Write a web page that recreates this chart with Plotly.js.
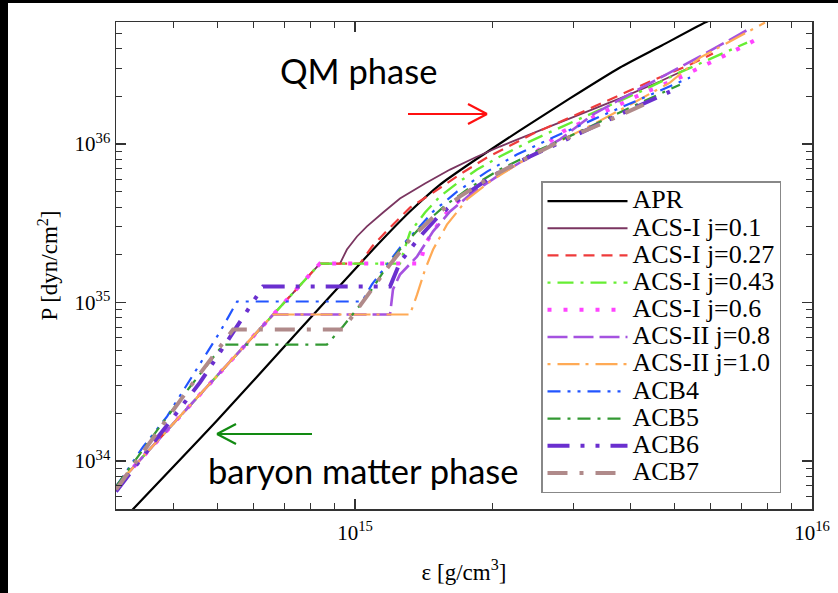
<!DOCTYPE html>
<html><head><meta charset="utf-8">
<script src="https://cdn.plot.ly/plotly-3.0.1.min.js"></script>
<style>html,body{margin:0;padding:0;background:#fff;}#plot{width:838px;height:593px;}</style>
</head><body><div id="plot"></div>
<script>
// ---- data (energy density eps [g/cm^3], pressure P [dyn/cm^2]) ----
const seriesNames = ["APR","ACS-I j=0.1","ACS-I j=0.27","ACS-I j=0.43","ACS-I j=0.6","ACS-II j=0.8","ACS-II j=1.0","ACB4","ACB5","ACB6","ACB7"];

const aprEps = [3.14e14,4.99e14,7.58e14,1.095e15,1.319e15,1.535e15,1.811e15,2.296e15,2.953e15,3.802e15,4.645e15,5.83e15,6.45e15];
const aprP   = [4.40e33,1.80e34,6.77e34,2.16e35,3.75e35,5.55e35,7.76e35,1.22e36,1.94e36,3.04e36,4.12e36,5.84e36,6.65e36];

// shared hadronic branch of ACS models
const acsBaseEps = [2.94e14,4.58e14,6.62e14,8.38e14];
const acsBaseP   = [6.51e33,2.63e34,8.40e34,1.76e35];

const acs1Eps = [9.27e14,9.60e14,1.010e15,1.062e15,1.152e15,1.254e15,1.423e15,1.614e15,1.832e15,2.075e15,2.540e15,3.105e15,3.802e15,4.645e15,5.41e15];
const acs1P   = [1.76e35,2.16e35,2.61e35,3.02e35,3.70e35,4.53e35,5.63e35,6.90e35,8.22e35,9.64e35,1.22e36,1.54e36,1.94e36,2.48e36,3.04e36];

const acs27Eps = [1.025e15,1.057e15,1.089e15,1.181e15,1.319e15,1.482e15,1.722e15,1.945e15,2.218e15,2.449e15,2.953e15,3.614e15,4.42e15,5.41e15,6.07e15];
const acs27P   = [1.76e35,2.01e35,2.25e35,2.89e35,3.97e35,4.94e35,6.61e35,8.22e35,1.007e36,1.16e36,1.47e36,1.91e36,2.48e36,3.17e36,3.72e36];

const acs43Eps = [1.254e15,1.286e15,1.319e15,1.423e15,1.535e15,1.680e15,1.849e15,2.075e15,2.415e15,2.810e15,3.437e15,4.21e15,5.14e15,6.13e15,7.21e15];
const acs43P   = [1.76e35,2.22e35,2.77e35,3.70e35,4.67e35,5.71e35,6.90e35,8.34e35,1.04e36,1.27e36,1.65e36,2.14e36,2.83e36,3.57e36,4.37e36];

const acs60Eps = [1.388e15,1.423e15,1.482e15,1.574e15,1.698e15,1.879e15,2.128e15,2.415e15,2.851e15,3.437e15,4.21e15,5.14e15,6.07e15,7.06e15,7.69e15];
const acs60P   = [1.76e35,2.32e35,2.81e35,3.59e35,4.47e35,5.55e35,6.90e35,8.34e35,1.20e36,1.54e36,2.05e36,2.63e36,3.32e36,4.12e36,4.70e36];

const acs80Eps = [1.193e15,1.211e15,1.254e15,1.367e15,1.482e15,1.614e15,1.786e15,2.075e15,2.415e15,2.810e15,3.319e15,3.802e15,4.487e15,5.69e15,7.13e15,7.31e15];
const acs80P   = [8.40e34,1.21e35,1.50e35,1.95e35,2.81e35,3.75e35,4.80e35,6.42e35,8.34e35,1.07e36,1.54e36,1.91e36,2.48e36,3.57e36,5.13e36,5.35e36];

const acs100Eps = [1.319e15,1.367e15,1.423e15,1.482e15,1.589e15,1.758e15,1.974e15,2.296e15,2.710e15,3.319e15,3.999e15,4.888e15,5.69e15,6.95e15,7.89e15];
const acs100P   = [8.40e34,1.12e35,1.61e35,2.16e35,3.10e35,4.47e35,5.80e35,7.64e35,9.93e35,1.33e36,1.77e36,2.44e36,3.51e36,4.77e36,5.84e36];

const acb4Eps = [3.00e14,3.44e14,3.88e14,4.58e14,5.07e14,5.52e14,1.036e15,1.089e15,1.152e15,1.254e15,1.367e15,1.482e15,1.672e15,1.945e15,2.261e15,2.710e15,3.437e15,4.42e15,5.41e15];
const acb4P   = [6.90e33,1.23e34,1.91e34,4.06e34,6.56e34,1.015e35,1.015e35,1.30e35,1.61e35,2.22e35,2.89e35,3.75e35,5.01e35,6.70e35,8.59e35,1.10e36,1.49e36,2.05e36,2.63e36];

const acb5Eps = [3.00e14,3.74e14,4.36e14,5.15e14,8.68e14,9.41e14,1.062e15,1.152e15,1.254e15,1.388e15,1.574e15,1.786e15,2.075e15,2.540e15,3.105e15,3.999e15,5.14e15];
const acb5P   = [6.90e33,1.65e34,2.95e34,5.43e34,5.43e34,7.06e34,1.09e35,1.55e35,2.16e35,2.97e35,4.09e35,5.32e35,6.90e35,9.23e35,1.20e36,1.70e36,2.37e36];

const acb6Eps = [3.00e14,4.58e14,5.41e14,6.29e14,1.193e15,1.254e15,1.388e15,1.535e15,1.741e15,2.024e15,2.415e15,2.953e15,3.802e15,4.888e15];
const acb6P   = [6.42e33,3.13e34,6.47e34,1.26e35,1.26e35,1.79e35,2.61e35,3.59e35,4.80e35,6.42e35,8.34e35,1.10e36,1.54e36,2.14e36];

const acb7Eps = [3.00e14,4.36e14,5.41e14,9.41e14,9.75e14,1.062e15,1.193e15,1.319e15,1.496e15,1.698e15,1.974e15,2.296e15,2.810e15,3.437e15,4.42e15];
const acb7P   = [6.61e33,2.95e34,6.76e34,6.76e34,7.81e34,1.09e35,1.74e35,2.50e35,3.54e35,4.67e35,6.15e35,7.76e35,1.04e36,1.33e36,1.85e36];

const xTickVals = [1e15,1e16];
const xTickText = ["10<sup>15</sup>","10<sup>16</sup>"];
const yTickVals = [1e34,1e35,1e36];
const yTickText = ["10<sup>34</sup>","10<sup>35</sup>","10<sup>36</sup>"];
const xMinor = [3e14,4e14,5e14,6e14,7e14,8e14,9e14,2e15,3e15,4e15,5e15,6e15,7e15,8e15,9e15];
const yMinor = [5e33,6e33,7e33,8e33,9e33,2e34,3e34,4e34,5e34,6e34,7e34,8e34,9e34,2e35,3e35,4e35,5e35,6e35,7e35,8e35,9e35,2e36,3e36,4e36,5e36];

// ---- build traces ----
function join(a,b){return a.concat(b);}
const styles = [
  {color:"#000000", width:2.2, dash:"solid"},
  {color:"#7a3560", width:1.8, dash:"solid"},
  {color:"#ee3b3b", width:2.2, dash:"11px,7px"},
  {color:"#66ee33", width:2.4, dash:"3px,7px,16px,7px"},
  {color:"#ff44ff", width:4, dash:"4px,12px"},
  {color:"#a552e0", width:2.6, dash:"20px,6px"},
  {color:"#ffaa55", width:2.2, dash:"3px,7px,22px,6px"},
  {color:"#2255ff", width:2.2, dash:"13px,7px,3px,7px,3px,7px"},
  {color:"#339933", width:2.2, dash:"13px,7px,3px,7px"},
  {color:"#6a2fcf", width:4, dash:"22px,11px,4px,11px,4px,11px"},
  {color:"#b08a8a", width:4, dash:"20px,12px,4px,12px"}
];
const xs = [aprEps, join(acsBaseEps,acs1Eps), join(acsBaseEps,acs27Eps), join(acsBaseEps,acs43Eps), join(acsBaseEps,acs60Eps),
            join(acsBaseEps.slice(0,3),acs80Eps), join(acsBaseEps.slice(0,3),acs100Eps), acb4Eps, acb5Eps, acb6Eps, acb7Eps];
const ys = [aprP, join(acsBaseP,acs1P), join(acsBaseP,acs27P), join(acsBaseP,acs43P), join(acsBaseP,acs60P),
            join(acsBaseP.slice(0,3),acs80P), join(acsBaseP.slice(0,3),acs100P), acb4P, acb5P, acb6P, acb7P];

const traces = seriesNames.map((n,i)=>({
  type:"scatter", mode:"lines", name:'<span style="font-size:26px">'+n+'</span>', x:xs[i], y:ys[i],
  line:{color:styles[i].color, width:styles[i].width, dash:styles[i].dash,
        shape:(i===0?"spline":"linear"), smoothing:0.5}
}));

const L=116,R=812,T=22,B=509;
function px(x){return (x-L)/(R-L);}
function py(y){return (B-y)/(B-T);}

const shapes = [
  {type:"line", xref:"paper", yref:"paper", x0:px(408), y0:py(114), x1:px(487), y1:py(114), line:{color:"#ff1010", width:2.2}},
  {type:"line", xref:"paper", yref:"paper", x0:px(468), y0:py(104), x1:px(487), y1:py(114), line:{color:"#ff1010", width:2.2}},
  {type:"line", xref:"paper", yref:"paper", x0:px(468), y0:py(124), x1:px(487), y1:py(114), line:{color:"#ff1010", width:2.2}},
  {type:"line", xref:"paper", yref:"paper", x0:px(217), y0:py(434), x1:px(312), y1:py(434), line:{color:"#128a12", width:2.2}},
  {type:"line", xref:"paper", yref:"paper", x0:px(236), y0:py(424), x1:px(217), y1:py(434), line:{color:"#128a12", width:2.2}},
  {type:"line", xref:"paper", yref:"paper", x0:px(236), y0:py(444), x1:px(217), y1:py(434), line:{color:"#128a12", width:2.2}},
  {type:"rect", xref:"paper", yref:"paper", x0:px(0), x1:px(8), y0:py(593), y1:py(0), fillcolor:"#000", line:{width:0}},
  {type:"rect", xref:"paper", yref:"paper", x0:px(0), x1:px(838), y0:py(3), y1:py(0), fillcolor:"#000", line:{width:0}}
];

const sans = "Lato, 'Open Sans', sans-serif";
const annotations = [
  {xref:"paper", yref:"paper", x:px(358), y:py(70), text:"QM phase", showarrow:false, xanchor:"center", yanchor:"middle",
   font:{family:sans, size:34.5, color:"#000"}},
  {xref:"paper", yref:"paper", x:px(363), y:py(470), text:"baryon matter phase", showarrow:false, xanchor:"center", yanchor:"middle",
   font:{family:sans, size:34.5, color:"#000"}}
];

const serif = "'Liberation Serif', 'Times New Roman', Times, serif";
const axisCommon = {
  type:"log", showgrid:false, zeroline:false, showline:true, linecolor:"#333", linewidth:1.5,
  mirror:"allticks", ticks:"inside", ticklen:10, tickwidth:1.2, tickcolor:"#333",
  tickfont:{family:serif, size:21, color:"#000"}, tickmode:"array"
};
const layout = {
  width:838, height:593, paper_bgcolor:"#fff", plot_bgcolor:"#fff",
  margin:{l:L, r:838-R, t:T, b:593-B},
  showlegend:true,
  xaxis:Object.assign({}, axisCommon, {range:[14.477,16], tickvals:xTickVals, ticktext:xTickText, ticklabelstandoff:4,
    minor:{tickvals:xMinor, ticks:"inside", ticklen:6, tickcolor:"#333", tickwidth:1},
    title:{text:"ε [g/cm<sup>3</sup>]", font:{family:serif, size:23, color:"#000"}, standoff:20}}),
  yaxis:Object.assign({}, axisCommon, {range:[33.697,36.77], tickvals:yTickVals, ticktext:yTickText,
    minor:{tickvals:yMinor, ticks:"inside", ticklen:6, tickcolor:"#333", tickwidth:1},
    title:{text:"P [dyn/cm<sup>2</sup>]", font:{family:serif, size:23, color:"#000"}, standoff:10}}),
  legend:{x:px(541), y:py(181), xanchor:"left", yanchor:"top", bgcolor:"#fff", bordercolor:"#888", borderwidth:1.5,
    font:{family:serif, size:18.6, color:"#000"}, itemwidth:80, tracegroupgap:0},
  shapes:shapes, annotations:annotations
};
Plotly.newPlot("plot", traces, layout, {displayModeBar:false, staticPlot:true});
</script></body></html>
